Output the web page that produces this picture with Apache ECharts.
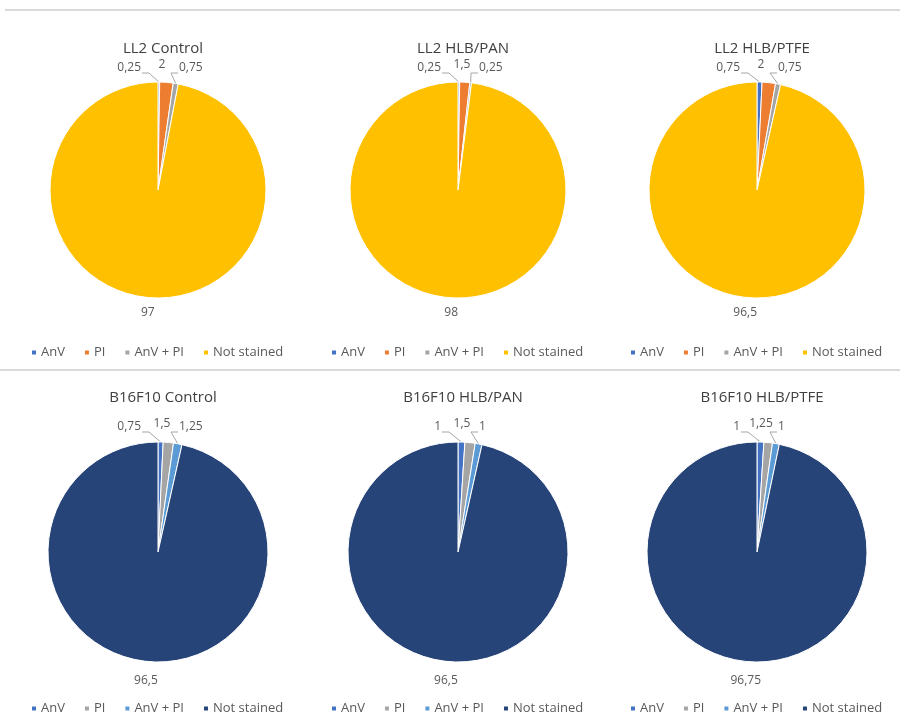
<!DOCTYPE html>
<html>
<head>
<meta charset="utf-8">
<script src="https://cdn.jsdelivr.net/npm/echarts@6/dist/echarts.min.js"></script>
<style>
  html, body { margin: 0; padding: 0; background: #fff; }
  #chart { width: 900px; height: 723px; }
</style>
</head>
<body>
<div id="chart"></div>
<script>
// Cell viability staining (% of cells) for two cell lines and three conditions
const categories = ['AnV', 'PI', 'AnV + PI', 'Not stained'];

const titles = [
  'LL2 Control', 'LL2 HLB/PAN', 'LL2 HLB/PTFE',
  'B16F10 Control', 'B16F10 HLB/PAN', 'B16F10 HLB/PTFE'
];

const ll2Control  = [0.25, 2, 0.75, 97];
const ll2Pan      = [0.25, 1.5, 0.25, 98];
const ll2Ptfe     = [0.75, 2, 0.75, 96.5];
const b16Control  = [0.75, 1.5, 1.25, 96.5];
const b16Pan      = [1, 1.5, 1, 96.5];
const b16Ptfe     = [1, 1.25, 1, 96.75];

const values = [ll2Control, ll2Pan, ll2Ptfe, b16Control, b16Pan, b16Ptfe];

// Palettes for each row
const ll2Colors = ['#4472C4', '#ED7D31', '#A5A5A5', '#FFC000'];
const b16Colors = ['#4472C4', '#A5A5A5', '#5B9BD5', '#264478'];

const colCenters = [158, 458, 757];
const rows = [
  { titleTop: 36, cy: 190, r: 108, legendTop: 346, colors: ll2Colors, smallGap: 14, bigGap: 15 },
  { titleTop: 385, cy: 552, r: 110, legendTop: 702, colors: b16Colors, smallGap: 15, bigGap: 19 }
];

const fmt = v => String(v).replace('.', ',');
const FONT = '"Open Sans", "Liberation Sans", sans-serif';

// point on the pie rim at the middle of slice k (clockwise from 12 o'clock)
function rimPoint(vals, k, cx, cy, r) {
  const total = vals.reduce((a, b) => a + b, 0);
  let cum = 0;
  for (let i = 0; i < k; i++) cum += vals[i];
  const theta = (cum + vals[k] / 2) / total * Math.PI * 2;
  return [cx + r * Math.sin(theta), cy - r * Math.cos(theta)];
}

const title = [], legend = [], series = [];
values.forEach((vals, i) => {
  const row = rows[Math.floor(i / 3)];
  const cx = colCenters[i % 3];
  const cy = row.cy, r = row.r;
  title.push({
    text: titles[i],
    left: cx, top: row.titleTop, textAlign: 'center',
    textStyle: { fontFamily: FONT, fontSize: 15, fontWeight: 'normal', color: '#404040' }
  });
  legend.push({
    left: cx - 128, top: row.legendTop, padding: 0,
    orient: 'horizontal',
    icon: 'rect', itemWidth: 6, itemHeight: 6, itemGap: 18,
    selectedMode: false,
    textStyle: { fontFamily: FONT, fontSize: 13, color: '#595959', padding: [0, 0, 0, -1] },
    data: categories.map((c, k) => ({ name: c, itemStyle: { color: row.colors[k] } }))
  });

  // small slices: labels side by side just above the pie
  const labelY = cy - r - row.smallGap;
  const layout = p => {
    const k = p.dataIndex;
    const rim = rimPoint(vals, k, cx, cy, r);
    const w = p.labelRect.width;
    if (k === 0) {
      const right = cx - 17;
      return {
        x: right - w, y: labelY, align: 'left', verticalAlign: 'middle',
        labelLinePoints: [[right + 1, labelY + 5], [right + 8, labelY + 5], rim]
      };
    }
    if (k === 1) {
      return { x: cx + 4 - w / 2, y: labelY - 3, align: 'left', verticalAlign: 'middle' };
    }
    if (k === 2) {
      const left = cx + 21;
      return {
        x: left, y: labelY, align: 'left', verticalAlign: 'middle',
        labelLinePoints: [[left - 1, labelY + 5], [left - 8, labelY + 5], rim]
      };
    }
    // main slice: value just below its rim point
    return { x: rim[0] - w / 2, y: rim[1] + row.bigGap, align: 'left', verticalAlign: 'middle' };
  };

  series.push({
    type: 'pie',
    center: [cx, cy],
    radius: [0, r],
    startAngle: 90,
    clockwise: true,
    avoidLabelOverlap: false,
    animation: false,
    itemStyle: { borderColor: '#fff', borderWidth: 1 },
    label: {
      show: true, position: 'outside',
      fontFamily: FONT, fontSize: 12, color: '#595959',
      formatter: p => fmt(p.value)
    },
    labelLine: { show: true, length: 8, length2: 6, lineStyle: { color: '#a6a6a6', width: 1 } },
    labelLayout: layout,
    data: categories.map((c, k) => ({
      name: c, value: vals[k],
      itemStyle: { color: row.colors[k] },
      labelLine: (k === 1 || k === 3) ? { show: false } : undefined
    }))
  });
});

const chart = echarts.init(document.getElementById('chart'), null, { renderer: 'canvas' });
chart.setOption({
  backgroundColor: '#fff',
  title, legend, series,
  graphic: [
    { type: 'line', shape: { x1: 5, y1: 10, x2: 900, y2: 10 }, style: { stroke: '#d9d9d9', lineWidth: 2 } },
    { type: 'line', shape: { x1: 0, y1: 370, x2: 900, y2: 370 }, style: { stroke: '#d9d9d9', lineWidth: 2 } }
  ]
});
</script>
</body>
</html>
